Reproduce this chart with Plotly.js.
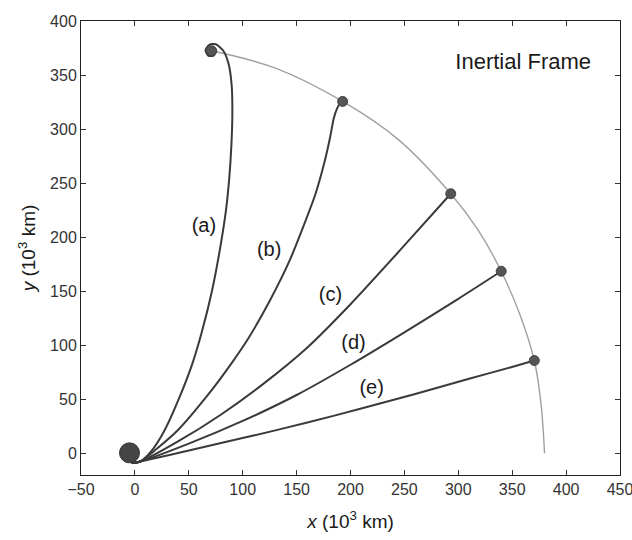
<!DOCTYPE html>
<html>
<head>
<meta charset="utf-8">
<script src="https://cdn.plot.ly/plotly-3.0.1.min.js"></script>
<style>html,body{margin:0;padding:0;background:#fff;}#chart{width:632px;height:540px;}</style>
</head>
<body>
<div id="chart"></div>
<script>
// Trajectory (a)
const aX = [-3, 5, 16, 27.7, 41.6, 53.4, 62, 71.7, 79.3, 84.5, 87.4, 89.5, 90.4, 89.8, 87, 82, 75, 69, 65.5, 68, 73, 75.5, 72];
const aY = [-9, -7.5, 3, 21.6, 52.4, 83.3, 112, 151.2, 191.3, 225, 253, 285, 315, 340, 360, 372.5, 378.5, 378, 373, 368, 368, 372.5, 376.5];
// Trajectory (b)
const bX = [-3, 5, 20, 40, 66.4, 89.6, 105, 125, 143.8, 156.2, 167.5, 176, 181, 184.5, 187.5, 190.5, 193];
const bY = [-9, -7.5, 4, 21.6, 52.4, 83.3, 106, 141, 179, 209.8, 240, 270, 292, 310, 319, 324, 326];
// Trajectory (c)
const cX = [-3, 5, 40, 80, 120, 160, 200, 246, 293];
const cY = [-9, -7.5, 11, 36, 65, 98, 138, 188, 240.2];
// Trajectory (d)
const dX = [-3, 5, 50, 100, 150, 200, 250, 300, 339.8];
const dY = [-9, -7.5, 9, 30, 54, 82, 112, 143, 168.5];
// Trajectory (e)
const eX = [-3, 5, 60, 110, 160, 210, 260, 310, 348.2, 370.5];
const eY = [-9, -7.5, 5, 16.5, 28.5, 41.5, 55, 69, 79.5, 85.9];
// Moon orbit (read along the arc)
const orbitX = [71.1, 129.8, 192.7, 243.9, 293, 318.3, 339.8, 356.6, 370.5, 376.7, 380];
const orbitY = [372.5, 356.6, 325.6, 290.7, 240.2, 206.7, 168.5, 129.8, 85.9, 46.3, 0];
// Moon positions at arrival
const moonX = [71.1, 192.7, 293, 339.8, 370.5];
const moonY = [372.5, 325.6, 240.2, 168.5, 85.9];
// Earth
const earthX = [-5];
const earthY = [0.5];
// Trajectory labels
const labelText = ['(a)', '(b)', '(c)', '(d)', '(e)'];
const labelX = [64, 124.5, 181.4, 202.8, 219.6];
const labelY = [209, 186.9, 145.4, 100.8, 59.3];
const frameText = 'Inertial Frame';
const frameX = [360.2];
const frameY = [360.5];

const lineColor = '#3a3a3a';
const trajs = [[aX, aY], [bX, bY], [cX, cY], [dX, dY], [eX, eY]];
const data = [];
data.push({x: orbitX, y: orbitY, mode: 'lines', line: {color: '#a0a0a0', width: 1.4, shape: 'spline', smoothing: 1}, hoverinfo: 'skip'});
trajs.forEach(t => {
  data.push({x: t[0], y: t[1], mode: 'lines', line: {color: lineColor, width: 2, shape: 'spline', smoothing: 0.7}, hoverinfo: 'skip'});
});
data.push({x: earthX, y: earthY, mode: 'markers', marker: {size: 20, color: '#454545', line: {color: '#333', width: 1}}, hoverinfo: 'skip'});
data.push({x: moonX, y: moonY, mode: 'markers', marker: {size: 10, color: '#555', line: {color: '#444', width: 1}}, hoverinfo: 'skip'});
data.push({x: labelX, y: labelY, text: labelText, mode: 'text', textfont: {family: 'Liberation Sans, Arial, sans-serif', size: 20, color: '#1a1a1a'}, hoverinfo: 'skip'});
data.push({x: frameX, y: frameY, text: [frameText], mode: 'text', textfont: {family: 'Liberation Sans, Arial, sans-serif', size: 22, color: '#1a1a1a'}, hoverinfo: 'skip'});

const tickFont = {family: 'Liberation Sans Narrow, Arial Narrow, Liberation Sans, sans-serif', size: 16, color: '#333'};
const layout = {
  width: 632, height: 540,
  margin: {l: 81, r: 12, t: 21, b: 65},
  paper_bgcolor: '#fff', plot_bgcolor: '#fff',
  showlegend: false,
  xaxis: {
    range: [-50, 450.001], tickvals: [-50, 0, 50, 100, 150, 200, 250, 300, 350, 400, 450],
    ticks: 'inside', ticklen: 5, tickcolor: '#333', mirror: 'ticks', ticklabeloverflow: 'allow',
    showline: true, linecolor: '#222', linewidth: 1,
    showgrid: false, zeroline: false, tickfont: tickFont,
    title: {text: '<i>x</i> (10<sup>3</sup> km)', font: {family: 'Liberation Sans, Arial, sans-serif', size: 19, color: '#1a1a1a'}, standoff: 17}
  },
  yaxis: {
    range: [-20, 400], tick0: 0, dtick: 50,
    ticks: 'inside', ticklen: 5, tickcolor: '#333', mirror: 'ticks', ticklabeloverflow: 'allow',
    showline: true, linecolor: '#222', linewidth: 1,
    showgrid: false, zeroline: false, tickfont: tickFont,
    title: {text: '<i>y</i> (10<sup>3</sup> km)', font: {family: 'Liberation Sans, Arial, sans-serif', size: 19, color: '#1a1a1a'}, standoff: 9}
  }
};
Plotly.newPlot('chart', data, layout, {displayModeBar: false, staticPlot: true});
</script>
</body>
</html>
